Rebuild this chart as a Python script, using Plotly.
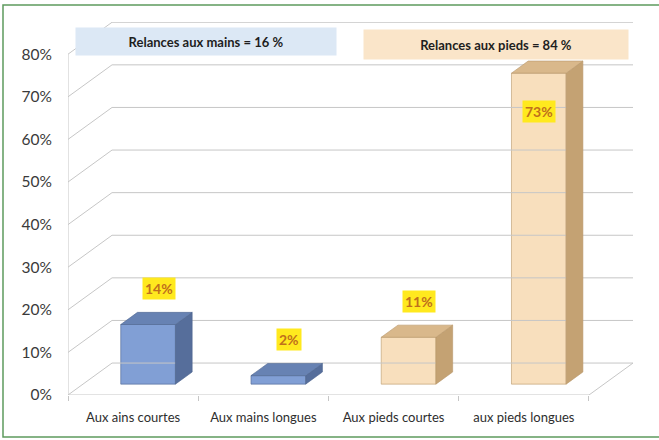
import plotly.graph_objects as go

# ---- data ----
categories = ["Aux ains courtes", "Aux mains longues", "Aux pieds courtes", "aux pieds longues"]
values = [0.14, 0.02, 0.11, 0.73]
value_labels = ["14%", "2%", "11%", "73%"]
y_ticks = [0, 0.1, 0.2, 0.3, 0.4, 0.5, 0.6, 0.7, 0.8]
y_tick_labels = ["0%", "10%", "20%", "30%", "40%", "50%", "60%", "70%", "80%"]
group_titles = ["Relances aux mains = 16 %", "Relances aux pieds = 84 %"]

# ---- styling / 3D geometry (in axis units) ----
DX, DY = 0.338, 0.075          # depth of the 3D box
F0, F1 = 0.34, 0.72            # bar depth (front/back fraction of box depth)
BW = 0.42                      # bar width
front_cols = ["#819FD5", "#819FD5", "#F8DFBD", "#F8DFBD"]
top_cols = ["#6782B3", "#6782B3", "#D9B88B", "#D9B88B"]
side_cols = ["#566E9B", "#566E9B", "#C4A273", "#C4A273"]
edge_cols = ["#4F6790", "#4F6790", "#B8976A", "#B8976A"]
GRID = "#C6C6C6"
FONT = "Lato"

n = len(categories)
fig = go.Figure()

# gridlines on left wall + back wall
gx, gy = [], []
for v in y_ticks:
    gx += [0, DX, n + DX, None]
    gy += [v, v + DY, v + DY, None]
# front vertical axis line
gx += [0, 0, None]
gy += [0, y_ticks[-1], None]
# floor front edge and right edge
gx += [0, n, n + DX, None]
gy += [0, 0, DY, None]
fig.add_trace(go.Scatter(x=gx, y=gy, mode="lines", line=dict(color=GRID, width=1),
                         hoverinfo="skip", showlegend=False))

# bars
for i, v in enumerate(values):
    cx = i + 0.5 + F0 * DX
    base = F0 * DY
    xl, xr = cx - BW / 2, cx + BW / 2
    top = base + v
    ddx, ddy = (F1 - F0) * DX, (F1 - F0) * DY
    # side face
    fig.add_trace(go.Scatter(x=[xr, xr, xr + ddx, xr + ddx, xr], y=[base, top, top + ddy, base + ddy, base],
                             fill="toself", fillcolor=side_cols[i], mode="lines",
                             line=dict(color=edge_cols[i], width=0.6), hoverinfo="skip", showlegend=False))
    # top face
    fig.add_trace(go.Scatter(x=[xl, xr, xr + ddx, xl + ddx, xl], y=[top, top, top + ddy, top + ddy, top],
                             fill="toself", fillcolor=top_cols[i], mode="lines",
                             line=dict(color=edge_cols[i], width=0.6), hoverinfo="skip", showlegend=False))
    # front face
    fig.add_trace(go.Bar(x=[cx], y=[v], base=[base], width=BW, marker=dict(color=front_cols[i],
                         line=dict(color=edge_cols[i], width=0.6)), hoverinfo="skip", showlegend=False))
    # value label
    inside = v > 0.5
    fig.add_annotation(x=cx + (0 if inside else 0.08), y=top, text="<b>" + value_labels[i] + "</b>",
                       showarrow=False, yshift=-38 if inside else 36,
                       xanchor="center", yanchor="middle",
                       bgcolor="#FFE91E", borderpad=2,
                       font=dict(family=FONT, size=14, color="#C0701C"))

# group title boxes
def px_to_paper(px, py):
    return (px - 68) / 565, (395 - py) / 373

bx, by = px_to_paper(206, 41)
fig.add_annotation(x=bx, y=by, xref="paper", yref="paper", xanchor="center", yanchor="middle",
                   text="<b>" + group_titles[0] + "</b>",
                   showarrow=False, width=258, height=25, bgcolor="#DCE8F5",
                   font=dict(family=FONT, size=13, color="#1E1E1E"))
bx, by = px_to_paper(496, 44)
fig.add_annotation(x=bx, y=by, xref="paper", yref="paper", xanchor="center", yanchor="middle",
                   text="<b>" + group_titles[1] + "</b>",
                   showarrow=False, width=262, height=27, bgcolor="#FAE5C9",
                   font=dict(family=FONT, size=13, color="#1E1E1E"))

# outer green frame (left, top, bottom edges only; right edge is cut off in the reference)
x0, y0 = px_to_paper(3, 437)
x1, y1 = px_to_paper(680, 5)
fig.add_shape(type="path", xref="paper", yref="paper",
              path=f"M {x1},{y1} L {x0},{y1} L {x0},{y0} L {x1},{y0}",
              line=dict(color="#5E9A5E", width=1.5), layer="below")

fig.update_layout(
    width=659, height=440,
    margin=dict(l=68, r=26, t=22, b=45),
    paper_bgcolor="white", plot_bgcolor="white",
    barmode="overlay",
    xaxis=dict(range=[0, n + DX], tickvals=[i + 0.5 for i in range(n)], ticktext=categories,
               showgrid=False, zeroline=False, showline=False, ticks="",
               ticklabelstandoff=13,
               minor=dict(tickvals=list(range(n + 1)), ticks="outside", ticklen=5,
                          tickcolor=GRID, showgrid=False),
               tickfont=dict(family=FONT, size=13, color="#2E2E2E"), fixedrange=True),
    yaxis=dict(range=[0, 0.8 + DY + 0.0006], tickvals=y_ticks, ticktext=y_tick_labels,
               showgrid=False, zeroline=False, showline=False, ticks="",
               ticklabelstandoff=15,
               tickfont=dict(family=FONT, size=15.5, color="#3A3A3A"), fixedrange=True),
)

fig.write_html("out.html", config={"displayModeBar": False},
               post_script="document.body.style.margin='0';document.body.style.overflow='hidden';")
